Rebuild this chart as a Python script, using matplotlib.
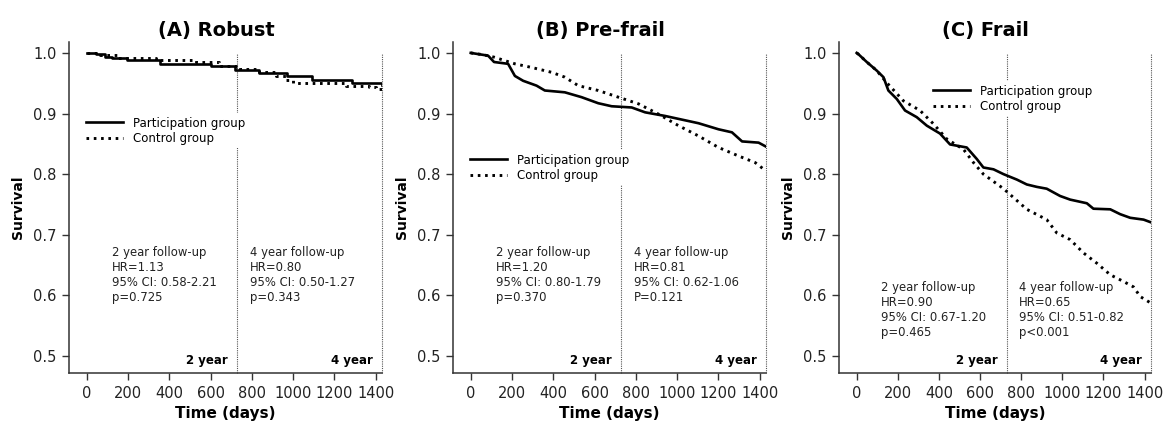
import matplotlib
matplotlib.use("Agg")
import matplotlib.pyplot as plt

plt.rcParams['font.family'] = ['DejaVu Sans']

# ---------------- data ----------------
titles = ["(A) Robust", "(B) Pre-frail", "(C) Frail"]
legend_labels = ["Participation group", "Control group"]
x_ticks = [0, 200, 400, 600, 800, 1000, 1200, 1400]
y_ticks = [0.5, 0.6, 0.7, 0.8, 0.9, 1.0]
followup_days = [730, 1430]
followup_labels = ["2 year", "4 year"]

# (A) Robust
a_part_t = [0, 45, 88, 120, 193, 260, 354, 600, 720, 837, 972, 1094, 1286, 1430]
a_part_s = [1.0, 0.998, 0.993, 0.992, 0.989, 0.988, 0.981, 0.979, 0.972, 0.9665, 0.962, 0.956, 0.951, 0.947]
a_ctrl_t = [0, 64, 150, 338, 531, 640, 745, 837, 917, 966, 1000, 1255, 1368, 1400, 1430]
a_ctrl_s = [1.0, 0.996, 0.992, 0.988, 0.985, 0.979, 0.9735, 0.968, 0.962, 0.955, 0.950, 0.946, 0.944, 0.940, 0.937]

# (B) Pre-frail
b_part_t = [0, 84, 113, 181, 214, 254, 319, 359, 456, 537, 618, 683, 780, 845, 942, 1104, 1201, 1266, 1315, 1395, 1428]
b_part_s = [1.0, 0.9955, 0.985, 0.982, 0.962, 0.954, 0.946, 0.938, 0.935, 0.927, 0.917, 0.912, 0.910, 0.902, 0.896, 0.884, 0.874, 0.869, 0.854, 0.852, 0.846]
b_ctrl_t = [0, 60, 113, 214, 295, 392, 456, 521, 618, 715, 813, 910, 1007, 1104, 1201, 1298, 1379, 1428]
b_ctrl_s = [1.0, 0.997, 0.993, 0.982, 0.976, 0.968, 0.960, 0.946, 0.938, 0.927, 0.916, 0.899, 0.880, 0.863, 0.844, 0.830, 0.819, 0.806]

# (C) Frail
c_part_t = [0, 8, 49, 97, 130, 154, 195, 235, 292, 341, 405, 454, 535, 584, 616, 665, 714, 779, 827, 876, 924,
            989, 1038, 1119, 1151, 1233, 1281, 1330, 1395, 1427]
c_part_s = [1.0, 0.998, 0.985, 0.971, 0.960, 0.938, 0.924, 0.905, 0.894, 0.880, 0.867, 0.849, 0.844, 0.825, 0.811,
            0.808, 0.800, 0.791, 0.783, 0.779, 0.776, 0.764, 0.758, 0.752, 0.743, 0.742, 0.734, 0.728, 0.725, 0.721]
c_ctrl_t = [0, 8, 49, 97, 146, 227, 308, 373, 438, 519, 568, 616, 714, 827, 924, 973, 1038, 1103, 1168, 1233,
            1297, 1346, 1379, 1427]
c_ctrl_s = [1.0, 0.998, 0.985, 0.971, 0.951, 0.921, 0.905, 0.883, 0.858, 0.841, 0.819, 0.800, 0.776, 0.742,
            0.725, 0.703, 0.692, 0.670, 0.653, 0.634, 0.623, 0.614, 0.598, 0.588]

stats_2yr = [
    "2 year follow-up\nHR=1.13\n95% CI: 0.58-2.21\np=0.725",
    "2 year follow-up\nHR=1.20\n95% CI: 0.80-1.79\np=0.370",
    "2 year follow-up\nHR=0.90\n95% CI: 0.67-1.20\np=0.465",
]
stats_4yr = [
    "4 year follow-up\nHR=0.80\n95% CI: 0.50-1.27\np=0.343",
    "4 year follow-up\nHR=0.81\n95% CI: 0.62-1.06\nP=0.121",
    "4 year follow-up\nHR=0.65\n95% CI: 0.51-0.82\np<0.001",
]

curves = [
    (a_part_t, a_part_s, a_ctrl_t, a_ctrl_s),
    (b_part_t, b_part_s, b_ctrl_t, b_ctrl_s),
    (c_part_t, c_part_s, c_ctrl_t, c_ctrl_s),
]

# ---------------- layout ----------------
W, H = 1163, 421
fig = plt.figure(figsize=(W / 100, H / 100), dpi=100)

axes_px = [(69, 382), (453, 766), (839, 1151)]   # left/right in pixels
top_px, bot_px = 42, 373
legend_px = [(82, 113), (466, 150), (929, 81)]   # top-left of legend box (pixels)
stats_y = [0.681, 0.681, 0.623]
stepped = [True, False, False]

for i in range(3):
    l, r = axes_px[i]
    ax = fig.add_axes([l / W, 1 - bot_px / H, (r - l) / W, (bot_px - top_px) / H])
    pt, ps, ct, cs = curves[i]
    ds = 'steps-post' if stepped[i] else 'default'
    ax.plot(pt, ps, color='black', lw=1.9, drawstyle=ds, label=legend_labels[0], zorder=3)
    ax.plot(ct, cs, color='black', lw=2.1, linestyle=(0, (0.9, 1.6)), drawstyle=ds,
            label=legend_labels[1], zorder=3)

    ylo = 0.472
    for d in followup_days:
        ax.plot([d, d], [ylo, 1.0], color='#555555', lw=0.8, linestyle=(0, (1, 1)),
                zorder=2, clip_on=False)

    ax.set_xlim(-86, 1431)
    ax.set_ylim(ylo, 1.018)
    ax.set_xticks(x_ticks)
    ax.set_yticks(y_ticks)
    ax.set_yticklabels([f"{v:.1f}" for v in y_ticks])
    ax.tick_params(axis='both', labelsize=10.5, length=5, width=1, color='#333333',
                   labelcolor='#222222', pad=4)
    for s in ['top', 'right']:
        ax.spines[s].set_visible(False)
    for s in ['left', 'bottom']:
        ax.spines[s].set_linewidth(1.1)
        ax.spines[s].set_color('#333333')

    ax.set_title(titles[i], fontsize=14, fontweight='bold', x=0.47, pad=4)
    ax.set_xlabel("Time (days)", fontsize=11, fontweight='bold', labelpad=4)
    ax.set_ylabel("Survival", fontsize=10, fontweight='bold', labelpad=6)

    ax.text(120, stats_y[i], stats_2yr[i], fontsize=8.4, va='top', ha='left',
            linespacing=1.2, color='#222222')
    ax.text(790, stats_y[i], stats_4yr[i], fontsize=8.4, va='top', ha='left',
            linespacing=1.2, color='#222222')
    for d, lab in zip(followup_days, followup_labels):
        ax.text(d - 45, 0.493, lab, fontsize=8.5, fontweight='bold', ha='right', va='center')

    lx, ly = legend_px[i]
    leg = ax.legend(loc='upper left', bbox_to_anchor=(lx / W, 1 - ly / H),
                    bbox_transform=fig.transFigure, fontsize=8.5, frameon=True,
                    handlelength=3.2, handletextpad=0.85, labelspacing=0.2,
                    borderpad=0.3, borderaxespad=0)
    leg.get_frame().set_facecolor('white')
    leg.get_frame().set_edgecolor('none')
    leg.get_frame().set_alpha(1)
    leg.set_zorder(5)

fig.savefig("out.png", dpi=100)
